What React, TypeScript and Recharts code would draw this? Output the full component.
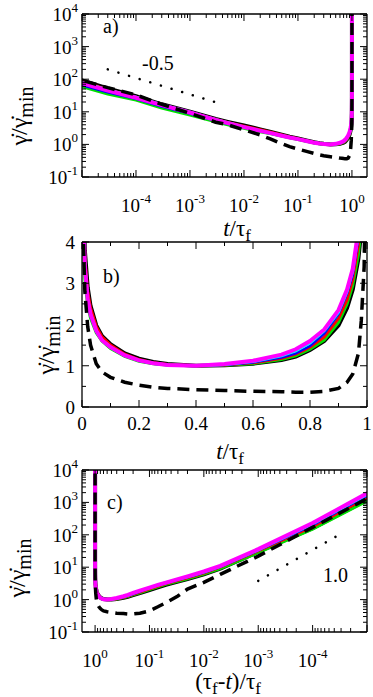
import React from "react";
import { LineChart, Line, XAxis, YAxis } from "recharts";

const FONT = "Liberation Serif, Times New Roman, serif";

// t / tau_f sampling
const tGrid = [1e-10, 1e-8, 1e-6, 1e-5, 3e-5, 1e-4, 3e-4, 1e-3, 3e-3, 0.005, 0.01, 0.02, 0.03, 0.05, 0.07, 0.1, 0.15, 0.2, 0.25, 0.3, 0.4, 0.5, 0.6, 0.7, 0.75, 0.8, 0.85, 0.9, 0.93, 0.95, 0.97, 0.98, 0.99, 0.995, 0.999, 0.9999, 0.99999, 0.999999, 0.99999999];

// gamma-dot / gamma-dot_min for each run
const blackRun = [30000, 3000, 300, 92, 52, 30, 17, 10, 6, 4.9, 3.8, 2.9, 2.45, 1.98, 1.72, 1.52, 1.3, 1.17, 1.09, 1.04, 1.0, 1.01, 1.05, 1.14, 1.22, 1.38, 1.6, 1.98, 2.4, 2.85, 3.6, 4.3, 6.0, 9, 30, 160, 1200, 9000, 150000];
const greenRun = [20000, 2000, 190, 59, 35, 23, 13, 8, 4.9, 4.0, 3.1, 2.45, 2.15, 1.8, 1.6, 1.42, 1.23, 1.11, 1.05, 1.02, 1.0, 1.01, 1.05, 1.15, 1.24, 1.4, 1.62, 2.05, 2.5, 2.95, 3.7, 4.4, 6.1, 9, 28, 150, 1100, 8500, 140000];
const redRun = [27000, 2700, 270, 85, 48, 28, 16, 9.5, 5.8, 4.7, 3.6, 2.8, 2.4, 1.95, 1.7, 1.5, 1.28, 1.15, 1.07, 1.03, 1.0, 1.02, 1.07, 1.18, 1.28, 1.45, 1.7, 2.15, 2.6, 3.1, 3.95, 4.7, 6.6, 10, 32, 180, 1400, 11000, 170000];
const blueRun = [22000, 2200, 210, 66, 40, 25, 14.5, 8.8, 5.3, 4.3, 3.3, 2.55, 2.2, 1.82, 1.61, 1.44, 1.24, 1.12, 1.05, 1.02, 1.0, 1.02, 1.08, 1.2, 1.3, 1.48, 1.78, 2.25, 2.75, 3.2, 4.1, 4.9, 6.8, 10.2, 33, 200, 1600, 12000, 180000];
const cyanRun = [25000, 2500, 250, 80, 47, 28, 16.5, 9.7, 5.7, 4.6, 3.45, 2.62, 2.25, 1.85, 1.62, 1.45, 1.25, 1.13, 1.06, 1.02, 1.0, 1.03, 1.1, 1.24, 1.36, 1.55, 1.85, 2.3, 2.8, 3.3, 4.2, 5.05, 7.1, 10.6, 34, 215, 1750, 14000, 190000];
const magentaRun = [24000, 2400, 240, 75, 45, 27, 16, 9.5, 5.6, 4.5, 3.4, 2.6, 2.25, 1.85, 1.62, 1.45, 1.25, 1.13, 1.06, 1.02, 1.0, 1.04, 1.12, 1.27, 1.4, 1.6, 1.88, 2.35, 2.85, 3.35, 4.3, 5.2, 7.4, 11, 36, 230, 1900, 15000, 200000];
const dashedRun = [30000, 3000, 300, 92, 55, 33, 17, 9, 4.8, 4.0, 2.8, 1.95, 1.5, 1.05, 0.85, 0.72, 0.6, 0.53, 0.48, 0.45, 0.42, 0.4, 0.38, 0.37, 0.36, 0.36, 0.38, 0.45, 0.6, 0.8, 1.3, 2.1, 3.4, 6, 22, 170, 1300, 10000, 150000];

// power-law guides
const guideA = [{ t: 3e-5, g: 200 }, { t: 3.2e-3, g: 19 }];
const guideC = [{ tc: 1e-3, g: 3.8 }, { tc: 3.1e-5, g: 105 }];

const linXTicks = [0, 0.1, 0.2, 0.3, 0.4, 0.5, 0.6, 0.7, 0.8, 0.9, 1];
const linYTicks = [0, 0.5, 1, 1.5, 2, 2.5, 3, 3.5, 4];

const series = [
  { key: "black", color: "#000000", width: 4 },
  { key: "green", color: "#00e000", width: 3 },
  { key: "red", color: "#ff0000", width: 3 },
  { key: "blue", color: "#0000ff", width: 2.5 },
  { key: "cyan", color: "#00ffff", width: 3 },
  { key: "magenta", color: "#ff00ff", width: 4 },
];

const rows = tGrid.map((t, i) => ({
  t,
  tc: 1 - t,
  black: blackRun[i],
  green: greenRun[i],
  red: redRun[i],
  blue: blueRun[i],
  cyan: cyanRun[i],
  magenta: magentaRun[i],
  dashed: dashedRun[i],
}));

const decades = (lo: number, hi: number, max: number) => {
  const out: number[] = [];
  for (let e = lo; e <= hi; e++) {
    for (let m = 1; m <= 9; m++) {
      const v = Number((m * Math.pow(10, e)).toPrecision(10));
      if (v <= max) out.push(v);
    }
  }
  return out;
};

const logMajor = (v: number) => Math.abs(Math.log10(v) - Math.round(Math.log10(v))) < 1e-6;
const linMajorX = (v: number) => Math.abs(v * 5 - Math.round(v * 5)) < 1e-6;
const linMajorY = (v: number) => Math.abs(v - Math.round(v)) < 1e-6;

const powLabel = (v: number) => (
  <>
    10<tspan dy={-9} fontSize={13}>{Math.round(Math.log10(v))}</tspan>
  </>
);
const plainLabel = (v: number) => <>{String(Number(v.toFixed(1)))}</>;

type Side = "bottom" | "top" | "left" | "right";

const makeTick =
  (side: Side, isMajor: (v: number) => boolean, label?: (v: number) => React.ReactNode, skip: number[] = [], off = 36) =>
  (props: any) => {
    const { x, y, payload } = props;
    const v = payload.value;
    const major = isMajor(v);
    const len = major ? 7 : 4;
    let x2 = x;
    let y2 = y;
    if (side === "bottom") y2 = y - len;
    else if (side === "top") y2 = y + len;
    else if (side === "left") x2 = x + len;
    else x2 = x - len;
    const show = major && label && !skip.some((s) => Math.abs(s - v) < 1e-9);
    return (
      <g>
        <line x1={x} y1={y} x2={x2} y2={y2} stroke="#000" strokeWidth={1} />
        {show && side === "bottom" && (
          <text x={x} y={y + off} textAnchor="middle" fontSize={19} style={{ fontFamily: FONT }} fill="#000">
            {label!(v)}
          </text>
        )}
        {show && side === "left" && (
          <text x={x - off} y={y + 7} textAnchor="end" fontSize={19} style={{ fontFamily: FONT }} fill="#000">
            {label!(v)}
          </text>
        )}
      </g>
    );
  };

const axisLine = { stroke: "#000", strokeWidth: 1.3 };

type PanelProps = {
  top: number;
  height: number;
  margin: { top: number; right: number; bottom: number; left: number };
  xKey: string;
  xScale: "log" | "linear";
  xDomain: number[];
  xTicks: number[];
  xReversed?: boolean;
  xMajor: (v: number) => boolean;
  xLabel: (v: number) => React.ReactNode;
  xSkip?: number[];
  xOff: number;
  yScale: "log" | "linear";
  yDomain: number[];
  yTicks: number[];
  yMajor: (v: number) => boolean;
  yLabel: (v: number) => React.ReactNode;
  yOff: number;
  guide?: any[];
};

const Panel = (p: PanelProps) => (
  <div style={{ position: "absolute", left: 0, top: p.top }}>
    <LineChart width={373} height={p.height} data={rows} margin={p.margin}>
      <XAxis
        dataKey={p.xKey}
        type="number"
        scale={p.xScale}
        domain={p.xDomain}
        allowDataOverflow
        reversed={p.xReversed}
        ticks={p.xTicks}
        interval={0}
        height={1}
        tickSize={0}
        tickMargin={0}
        tickLine={false}
        axisLine={axisLine}
        tick={makeTick("bottom", p.xMajor, p.xLabel, p.xSkip, p.xOff)}
      />
      <XAxis
        xAxisId="top"
        orientation="top"
        dataKey={p.xKey}
        type="number"
        scale={p.xScale}
        domain={p.xDomain}
        allowDataOverflow
        reversed={p.xReversed}
        ticks={p.xTicks}
        interval={0}
        height={1}
        tickSize={0}
        tickMargin={0}
        tickLine={false}
        axisLine={axisLine}
        tick={makeTick("top", p.xMajor)}
      />
      <YAxis
        type="number"
        scale={p.yScale}
        domain={p.yDomain}
        allowDataOverflow
        ticks={p.yTicks}
        interval={0}
        width={1}
        tickSize={0}
        tickMargin={0}
        tickLine={false}
        axisLine={axisLine}
        tick={makeTick("left", p.yMajor, p.yLabel, [], p.yOff)}
      />
      <YAxis
        yAxisId="right"
        orientation="right"
        type="number"
        scale={p.yScale}
        domain={p.yDomain}
        allowDataOverflow
        ticks={p.yTicks}
        interval={0}
        width={1}
        tickSize={0}
        tickMargin={0}
        tickLine={false}
        axisLine={axisLine}
        tick={makeTick("right", p.yMajor)}
      />
      {series.map((s) => (
        <Line
          key={s.key}
          dataKey={s.key}
          type="linear"
          stroke={s.color}
          strokeWidth={s.width}
          dot={false}
          isAnimationActive={false}
        />
      ))}
      <Line
        dataKey="dashed"
        type="linear"
        stroke="#000"
        strokeWidth={3.5}
        strokeDasharray="12 7"
        dot={false}
        isAnimationActive={false}
      />
      {p.guide && (
        <Line
          data={p.guide}
          dataKey="g"
          type="linear"
          stroke="#000"
          strokeWidth={2.5}
          strokeDasharray="0.1 11"
          strokeLinecap="round"
          dot={false}
          isAnimationActive={false}
        />
      )}
    </LineChart>
  </div>
);

const YTitle = ({ x, y }: { x: number; y: number }) => (
  <text x={x} y={y} transform={`rotate(-90 ${x} ${y})`} textAnchor="middle" fontSize={24} style={{ fontFamily: FONT }}>
    γ̇/γ̇<tspan dy={6} fontSize={20}>min</tspan>
  </text>
);

export default function App() {
  const logX = decades(-5, 0, 1);
  const logY = decades(-1, 4, 10000);
  return (
    <div style={{ position: "absolute", left: 0, top: 0, width: 373, height: 697, background: "#fff", fontFamily: FONT }}>
      <style>{".recharts-surface{overflow:visible}"}</style>
      <Panel
        top={0}
        height={232}
        margin={{ top: 13, right: 5, bottom: 54, left: 81 }}
        xKey="t"
        xScale="log"
        xDomain={[1e-5, 1.9]}
        xTicks={logX}
        xMajor={logMajor}
        xLabel={powLabel}
        xSkip={[1e-5]}
        xOff={35}
        yScale="log"
        yDomain={[0.1, 10000]}
        yTicks={logY}
        yMajor={logMajor}
        yLabel={powLabel}
        yOff={4}
        guide={guideA}
      />
      <Panel
        top={232}
        height={232}
        margin={{ top: 9, right: 5, bottom: 56, left: 81 }}
        xKey="t"
        xScale="linear"
        xDomain={[0, 1]}
        xTicks={linXTicks}
        xMajor={linMajorX}
        xLabel={plainLabel}
        xOff={23}
        yScale="linear"
        yDomain={[0, 4]}
        yTicks={linYTicks}
        yMajor={linMajorY}
        yLabel={plainLabel}
        yOff={7}
      />
      <Panel
        top={464}
        height={233}
        margin={{ top: 5, right: 5, bottom: 64, left: 81 }}
        xKey="tc"
        xScale="log"
        xDomain={[1e-5, 1.74]}
        xReversed
        xTicks={decades(-5, 0, 1)}
        xMajor={logMajor}
        xLabel={powLabel}
        xSkip={[1e-5]}
        xOff={35}
        yScale="log"
        yDomain={[0.1, 10000]}
        yTicks={logY}
        yMajor={logMajor}
        yLabel={powLabel}
        yOff={4}
        guide={guideC}
      />
      <svg width={373} height={697} style={{ position: "absolute", left: 0, top: 0, pointerEvents: "none", fontFamily: FONT }}>
        <g fill="#000">
          <text x={103} y={33} fontSize={20}>a)</text>
          <text x={142} y={70} fontSize={20}>-0.5</text>
          <YTitle x={27} y={116} />
          <text x={237} y={236} textAnchor="middle" fontSize={23}>
            <tspan fontStyle="italic">t</tspan>/τ<tspan dy={5} fontSize={17}>f</tspan>
          </text>

          <text x={103} y={283} fontSize={20}>b)</text>
          <YTitle x={54} y={345} />
          <text x={230} y={459} textAnchor="middle" fontSize={23}>
            <tspan fontStyle="italic">t</tspan>/τ<tspan dy={5} fontSize={17}>f</tspan>
          </text>

          <text x={107} y={509} fontSize={20}>c)</text>
          <text x={323} y={582} fontSize={20}>1.0</text>
          <YTitle x={25} y={568} />
          <text x={228} y={689} textAnchor="middle" fontSize={23}>
            (τ<tspan dy={5} fontSize={17}>f</tspan>
            <tspan dy={-5}>-</tspan>
            <tspan fontStyle="italic">t</tspan>)/τ<tspan dy={5} fontSize={17}>f</tspan>
          </text>
        </g>
      </svg>
    </div>
  );
}
